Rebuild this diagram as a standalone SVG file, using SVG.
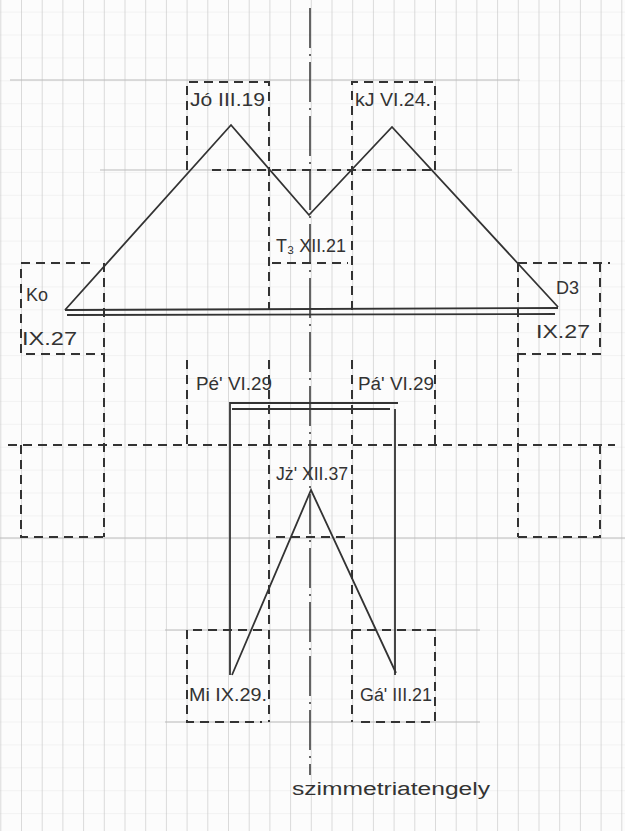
<svg xmlns="http://www.w3.org/2000/svg" width="625" height="831" viewBox="0 0 625 831">
<defs>
<pattern id="gv" x="0.3" y="0" width="20.7" height="831" patternUnits="userSpaceOnUse">
<line x1="0" y1="0" x2="0" y2="831" stroke="#c4c4c4" stroke-width="1.2"/>
</pattern>
<pattern id="gh" x="0" y="11.6" width="625" height="22.9" patternUnits="userSpaceOnUse">
<line x1="0" y1="0" x2="625" y2="0" stroke="#e8e8e8" stroke-width="1"/>
</pattern>
</defs>
<style>
.d{fill:none;stroke:#333;stroke-width:2;stroke-dasharray:9,6}
.s{fill:none;stroke:#333;stroke-width:1.8;stroke-linejoin:miter}
.g{fill:none;stroke:#bbb;stroke-width:1}
.ax{fill:none;stroke:#333;stroke-width:1.5;stroke-dasharray:40,6,2,6}
text{font-family:"Liberation Sans Narrow","Liberation Sans","DejaVu Sans",sans-serif;font-size:18px;fill:#333}
</style>
<rect width="625" height="831" fill="#fcfcfc"/>
<rect width="625" height="831" fill="url(#gh)"/>
<rect width="625" height="831" fill="url(#gv)"/>
<g id="guides">
<line class="g" x1="100" y1="170" x2="512" y2="170"/>
<line class="g" x1="10" y1="80" x2="520" y2="80" stroke="#d8d8d8"/>
<line class="g" x1="0" y1="538" x2="625" y2="538"/>
<line class="g" x1="165" y1="630" x2="480" y2="630"/>
<line class="g" x1="165" y1="722" x2="480" y2="722"/>
</g>
<g id="axis">
<line class="ax" x1="310" y1="8" x2="310" y2="775"/>
</g>
<g id="boxes">
<path class="d" d="M187,170 V82 H269 V310"/>
<path class="d" d="M352,310 V82 H435 V170"/>
<path class="d" d="M212,170 H432"/>
<path class="d" d="M272,263 H348"/>
<path class="d" d="M90,263 H21 V354 H104"/>
<path class="d" d="M104,263 V537"/>
<path class="d" d="M518,263 H610 M600,263 V354 H518"/>
<path class="d" d="M518,263 V537"/>
<path class="d" d="M8,445 H615"/>
<path class="d" d="M21,445 V537 H104"/>
<path class="d" d="M600,445 V537 H518"/>
<path class="d" d="M187,360 V445"/>
<path class="d" d="M435,360 V445"/>
<path class="d" d="M269,360 V722"/>
<path class="d" d="M352,360 V722"/>
<path class="d" d="M276,537 H346"/>
<path class="d" d="M262,630 H187 V722 H262"/>
<path class="d" d="M352,630 H435 V722 H360"/>
</g>
<g id="connectors">
<polyline class="s" points="65,310 231,125 309,215 392,127 558,307"/>
<line class="s" x1="65" y1="310" x2="558" y2="308"/>
<line class="s" x1="67" y1="315" x2="555" y2="314" stroke-width="1.2"/>
<polyline class="s" points="230,675 230,403 398,403"/>
<line class="s" x1="232" y1="409" x2="390" y2="409" stroke-width="1.2"/>
<line class="s" x1="395" y1="409" x2="395" y2="675"/>
<polyline class="s" points="232,675 311,490 396,673"/>
</g>
<g id="labels">
<text x="190" y="106" textLength="75" lengthAdjust="spacingAndGlyphs">Jó  III.19</text>
<text x="355" y="106" textLength="76" lengthAdjust="spacingAndGlyphs">kJ VI.24.</text>
<text x="276" y="252" textLength="70" lengthAdjust="spacingAndGlyphs">T₃ XII.21</text>
<text x="26" y="301" font-size="19">Ko</text>
<text x="22" y="345" textLength="55" lengthAdjust="spacingAndGlyphs">IX.27</text>
<text x="556" y="294" font-size="19">D3</text>
<text x="536" y="338" textLength="54" lengthAdjust="spacingAndGlyphs">IX.27</text>
<text x="196" y="390" textLength="76" lengthAdjust="spacingAndGlyphs">Pé' VI.29</text>
<text x="358" y="390" textLength="76" lengthAdjust="spacingAndGlyphs">Pá' VI.29</text>
<text x="276" y="480" textLength="72" lengthAdjust="spacingAndGlyphs">Jż' XII.37</text>
<text x="189" y="701" font-size="20" textLength="78" lengthAdjust="spacingAndGlyphs">Mi IX.29.</text>
<text x="360" y="701" font-size="20" textLength="72" lengthAdjust="spacingAndGlyphs">Gá' III.21</text>
<text x="292" y="795" font-size="24" textLength="198" lengthAdjust="spacingAndGlyphs">szimmetriatengely</text>
</g>
</svg>
